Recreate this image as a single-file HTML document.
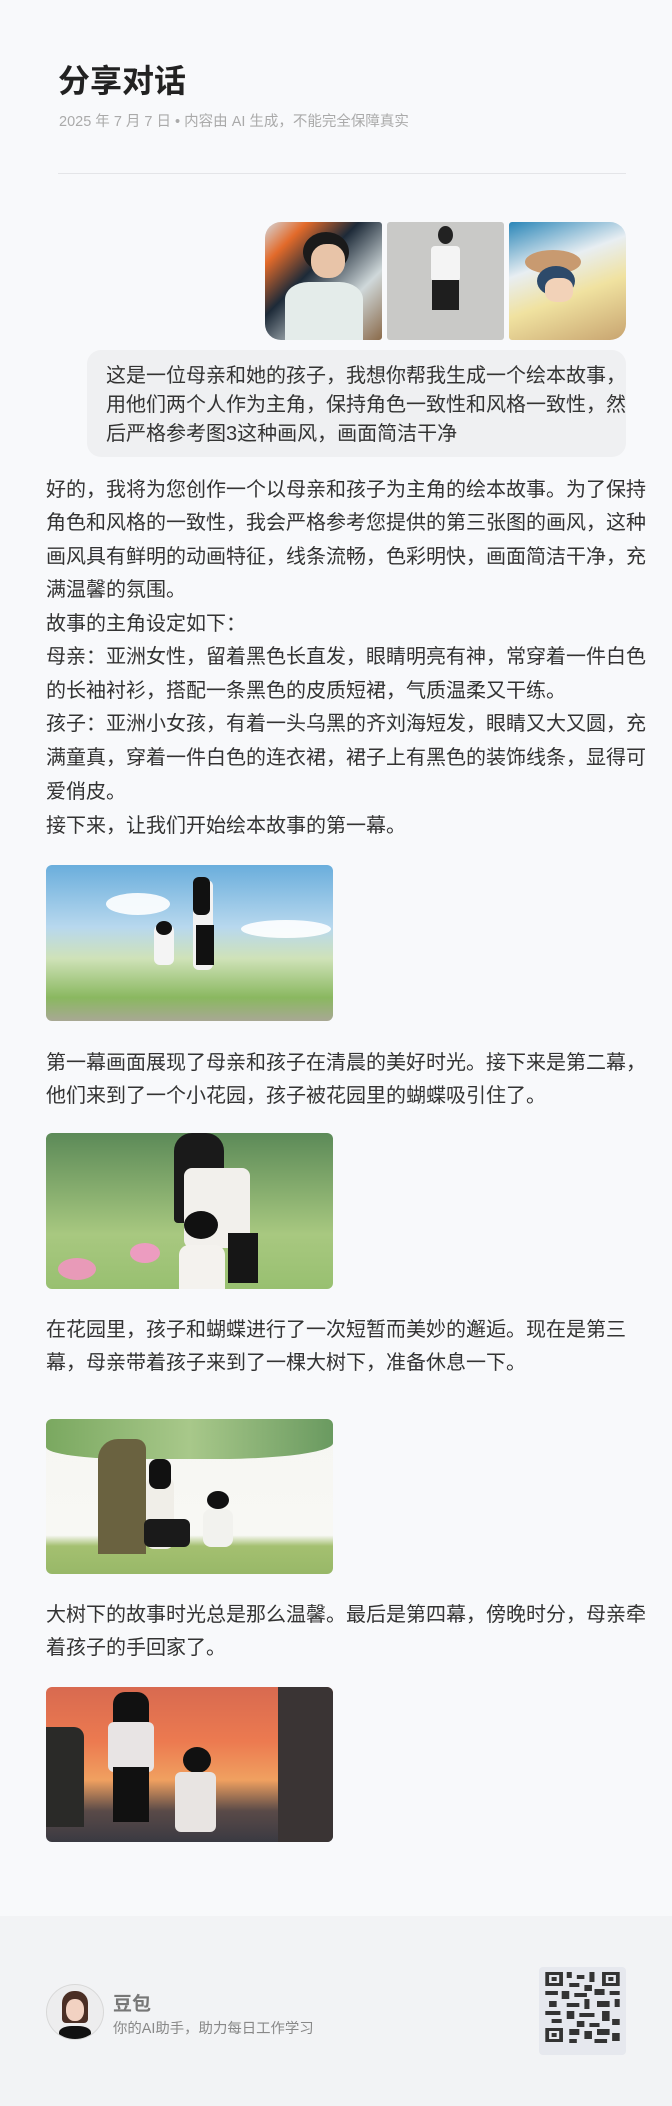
<!DOCTYPE html>
<html><head><meta charset="utf-8">
<style>
html,body{margin:0;padding:0}
body{width:672px;height:2106px;position:relative;background:#f8f9fb;overflow:hidden;font-family:"Liberation Sans","Noto Sans CJK SC",sans-serif;color:#333}
.a{position:absolute}
.line{position:absolute;left:46px;white-space:nowrap;font-size:20px;line-height:24px;color:#333}
.img{position:absolute;border-radius:6px;overflow:hidden}
</style></head><body>
<div class="a" style="left:58px;top:61px;font-size:32px;font-weight:bold;color:#222;line-height:40px">分享对话</div>
<div class="a" style="left:59px;top:110px;font-size:14.5px;color:#aaa;white-space:nowrap">2025 年 7 月 7 日 • 内容由 AI 生成，不能完全保障真实</div>
<div class="a" style="left:58px;top:173px;width:568px;height:1px;background:#e4e5e8"></div>

<div class="img" style="left:265px;top:222px;width:117px;height:118px;border-radius:16px 3px 3px 16px;background:linear-gradient(135deg,#d4d8dc 0%,#e26a2a 18%,#1d2a38 40%,#cfd8da 70%,#8a6a4a 100%)">
 <div class="a" style="left:38px;top:10px;width:46px;height:40px;border-radius:50%;background:#1a1a1a"></div>
 <div class="a" style="left:46px;top:22px;width:34px;height:34px;border-radius:45%;background:#e8c4a8"></div>
 <div class="a" style="left:20px;top:60px;width:78px;height:58px;border-radius:30% 30% 0 0;background:#e4ecea"></div>
</div>
<div class="img" style="left:387px;top:222px;width:117px;height:118px;border-radius:3px;background:#c9c9c7">
 <div class="a" style="left:51px;top:4px;width:15px;height:18px;border-radius:50%;background:#222"></div>
 <div class="a" style="left:44px;top:24px;width:29px;height:36px;border-radius:4px;background:#f4f4f4"></div>
 <div class="a" style="left:45px;top:58px;width:27px;height:30px;background:#1e1e1e"></div>
</div>
<div class="img" style="left:509px;top:222px;width:117px;height:118px;border-radius:3px 16px 16px 3px;background:linear-gradient(160deg,#2a86b8 0%,#e8eef2 35%,#f0e2a0 60%,#c8a470 100%)">
 <div class="a" style="left:16px;top:28px;width:56px;height:24px;border-radius:50%;background:#c89a70"></div>
 <div class="a" style="left:28px;top:44px;width:38px;height:30px;border-radius:50%;background:#2d4a6a"></div>
 <div class="a" style="left:36px;top:56px;width:28px;height:24px;border-radius:40%;background:#f2d2b8"></div>
</div>

<div class="a" style="left:87px;top:350px;width:539px;height:107px;border-radius:14px;background:#eff0f2"></div>
<div class="a" style="left:106px;top:362px;font-size:20px;line-height:29px;color:#333;white-space:nowrap">这是一位母亲和她的孩子，我想你帮我生成一个绘本故事，<br>用他们两个人作为主角，保持角色一致性和风格一致性，然<br>后严格参考图3这种画风，画面简洁干净</div>

<div>
<div class="line" style="top:478px">好的，我将为您创作一个以母亲和孩子为主角的绘本故事。为了保持</div>
<div class="line" style="top:511px">角色和风格的一致性，我会严格参考您提供的第三张图的画风，这种</div>
<div class="line" style="top:545px">画风具有鲜明的动画特征，线条流畅，色彩明快，画面简洁干净，充</div>
<div class="line" style="top:578px">满温馨的氛围。</div>
<div class="line" style="top:612px">故事的主角设定如下：</div>
<div class="line" style="top:645px">母亲：亚洲女性，留着黑色长直发，眼睛明亮有神，常穿着一件白色</div>
<div class="line" style="top:679px">的长袖衬衫，搭配一条黑色的皮质短裙，气质温柔又干练。</div>
<div class="line" style="top:712px">孩子：亚洲小女孩，有着一头乌黑的齐刘海短发，眼睛又大又圆，充</div>
<div class="line" style="top:746px">满童真，穿着一件白色的连衣裙，裙子上有黑色的装饰线条，显得可</div>
<div class="line" style="top:780px">爱俏皮。</div>
<div class="line" style="top:814px">接下来，让我们开始绘本故事的第一幕。</div>
</div>

<div class="img" style="left:46px;top:865px;width:287px;height:156px;background:linear-gradient(180deg,#6aaedc 0%,#b8d8ee 40%,#cfe2b8 60%,#8ab860 85%,#a8a894 100%)">
 <div class="a" style="left:60px;top:28px;width:64px;height:22px;border-radius:50%;background:#fff;opacity:.9"></div>
 <div class="a" style="left:195px;top:55px;width:90px;height:18px;border-radius:50%;background:#fff;opacity:.9"></div>
 <div class="a" style="left:147px;top:15px;width:20px;height:90px;border-radius:6px;background:#f2f2f2"></div>
 <div class="a" style="left:150px;top:60px;width:18px;height:40px;background:#111"></div>
 <div class="a" style="left:147px;top:12px;width:17px;height:38px;border-radius:6px;background:#111"></div>
 <div class="a" style="left:108px;top:60px;width:20px;height:40px;border-radius:6px;background:#f4f4f4"></div>
 <div class="a" style="left:110px;top:56px;width:16px;height:14px;border-radius:50%;background:#111"></div>
</div>
<div class="line" style="top:1051px">第一幕画面展现了母亲和孩子在清晨的美好时光。接下来是第二幕，</div>
<div class="line" style="top:1084px">他们来到了一个小花园，孩子被花园里的蝴蝶吸引住了。</div>

<div class="img" style="left:46px;top:1133px;width:287px;height:156px;background:linear-gradient(180deg,#5c8a58 0%,#8ab070 40%,#a8c880 65%,#98c070 100%)">
 <div class="a" style="left:128px;top:0px;width:50px;height:90px;border-radius:18px 18px 4px 4px;background:#1a1a1a"></div>
 <div class="a" style="left:138px;top:35px;width:66px;height:80px;border-radius:8px;background:#f2f0ec"></div>
 <div class="a" style="left:182px;top:100px;width:30px;height:50px;background:#161616"></div>
 <div class="a" style="left:138px;top:78px;width:34px;height:28px;border-radius:50%;background:#111"></div>
 <div class="a" style="left:133px;top:112px;width:46px;height:44px;border-radius:10px 10px 0 0;background:#f4f2ee"></div>
 <div class="a" style="left:12px;top:125px;width:38px;height:22px;border-radius:50%;background:#e89ab8"></div>
 <div class="a" style="left:84px;top:110px;width:30px;height:20px;border-radius:50%;background:#ec9cc0"></div>
</div>
<div class="line" style="top:1318px">在花园里，孩子和蝴蝶进行了一次短暂而美妙的邂逅。现在是第三</div>
<div class="line" style="top:1351px">幕，母亲带着孩子来到了一棵大树下，准备休息一下。</div>

<div class="img" style="left:46px;top:1419px;width:287px;height:155px;background:linear-gradient(180deg,#f6f6f2 0%,#f8f8f4 75%,#a4c070 82%,#98b868 100%)">
 <div class="a" style="left:0;top:0;width:287px;height:40px;background:linear-gradient(90deg,#7aa860,#a8c88a 50%,#6a9a60);border-radius:0 0 40% 30%"></div>
 <div class="a" style="left:52px;top:20px;width:48px;height:115px;border-radius:20px 10px 0 0;background:#6a6240"></div>
 <div class="a" style="left:100px;top:58px;width:28px;height:72px;border-radius:8px;background:#f0eee8"></div>
 <div class="a" style="left:103px;top:40px;width:22px;height:30px;border-radius:8px;background:#111"></div>
 <div class="a" style="left:98px;top:100px;width:46px;height:28px;background:#1a1a1a;border-radius:6px"></div>
 <div class="a" style="left:161px;top:72px;width:22px;height:18px;border-radius:50%;background:#111"></div>
 <div class="a" style="left:157px;top:90px;width:30px;height:38px;border-radius:8px;background:#f2f2ee"></div>
</div>
<div class="line" style="top:1603px">大树下的故事时光总是那么温馨。最后是第四幕，傍晚时分，母亲牵</div>
<div class="line" style="top:1636px">着孩子的手回家了。</div>

<div class="img" style="left:46px;top:1687px;width:287px;height:155px;background:linear-gradient(180deg,#d86a50 0%,#ec7a50 35%,#f0a060 60%,#5a4a48 80%,#3a3a42 100%)">
 <div class="a" style="left:232px;top:0;width:55px;height:155px;background:#3a3434"></div>
 <div class="a" style="left:0;top:40px;width:38px;height:100px;background:#2a2a28;border-radius:0 10px 0 0"></div>
 <div class="a" style="left:67px;top:5px;width:36px;height:55px;border-radius:12px;background:#111"></div>
 <div class="a" style="left:62px;top:35px;width:46px;height:50px;border-radius:6px;background:#e8e4e4"></div>
 <div class="a" style="left:67px;top:80px;width:36px;height:55px;background:#111"></div>
 <div class="a" style="left:137px;top:60px;width:28px;height:26px;border-radius:50%;background:#111"></div>
 <div class="a" style="left:129px;top:85px;width:41px;height:60px;border-radius:6px;background:#e8e4e2"></div>
</div>

<div class="a" style="left:0;top:1916px;width:672px;height:190px;background:#f2f3f5">
 <div class="a" style="left:46px;top:68px;width:56px;height:54px;border-radius:50%;background:#ededee;border:1px solid #d8d8d8;overflow:hidden">
  <div class="a" style="left:15px;top:6px;width:26px;height:32px;border-radius:12px 12px 4px 4px;background:#4a2e24"></div>
  <div class="a" style="left:19px;top:14px;width:18px;height:22px;border-radius:45%;background:#f2d2c2"></div>
  <div class="a" style="left:12px;top:41px;width:32px;height:16px;border-radius:40% 40% 0 0;background:#111"></div>
 </div>
 <div class="a" style="left:113px;top:73px;font-size:19px;font-weight:bold;color:#777">豆包</div>
 <div class="a" style="left:113px;top:101px;font-size:14.4px;color:#888;white-space:nowrap">你的AI助手，助力每日工作学习</div>
 <div class="a" style="left:539px;top:51px;width:87px;height:88px;border-radius:4px;background:#e6e8ee">
  <svg width="87" height="88" viewBox="0 0 69 88" preserveAspectRatio="none">
   <g fill="#333">
    <rect x="5" y="5" width="14" height="14"/><rect x="50" y="5" width="14" height="14"/><rect x="5" y="61" width="14" height="14"/>
    <rect x="22" y="5" width="4" height="6"/><rect x="30" y="8" width="6" height="4"/><rect x="40" y="5" width="4" height="10"/>
    <rect x="24" y="16" width="8" height="4"/><rect x="36" y="18" width="6" height="6"/>
    <rect x="5" y="24" width="10" height="4"/><rect x="18" y="24" width="6" height="8"/><rect x="28" y="26" width="10" height="4"/><rect x="44" y="22" width="8" height="6"/><rect x="56" y="24" width="8" height="4"/>
    <rect x="8" y="34" width="6" height="6"/><rect x="22" y="36" width="10" height="4"/><rect x="36" y="32" width="4" height="10"/><rect x="46" y="34" width="10" height="6"/><rect x="60" y="32" width="4" height="8"/>
    <rect x="5" y="44" width="12" height="4"/><rect x="22" y="44" width="6" height="8"/><rect x="32" y="46" width="12" height="4"/><rect x="50" y="44" width="6" height="10"/>
    <rect x="10" y="52" width="8" height="4"/><rect x="30" y="54" width="6" height="6"/><rect x="40" y="56" width="8" height="4"/><rect x="58" y="52" width="6" height="6"/>
    <rect x="24" y="62" width="8" height="6"/><rect x="36" y="64" width="6" height="8"/><rect x="46" y="62" width="10" height="6"/><rect x="58" y="66" width="6" height="8"/>
    <rect x="24" y="72" width="6" height="4"/><rect x="44" y="72" width="10" height="4"/>
   </g>
   <g fill="#e6e8ee"><rect x="8" y="8" width="8" height="8"/><rect x="53" y="8" width="8" height="8"/><rect x="8" y="64" width="8" height="8"/></g>
   <g fill="#333"><rect x="10" y="10" width="4" height="4"/><rect x="55" y="10" width="4" height="4"/><rect x="10" y="66" width="4" height="4"/></g>
  </svg>
 </div>
</div>
</body></html>
